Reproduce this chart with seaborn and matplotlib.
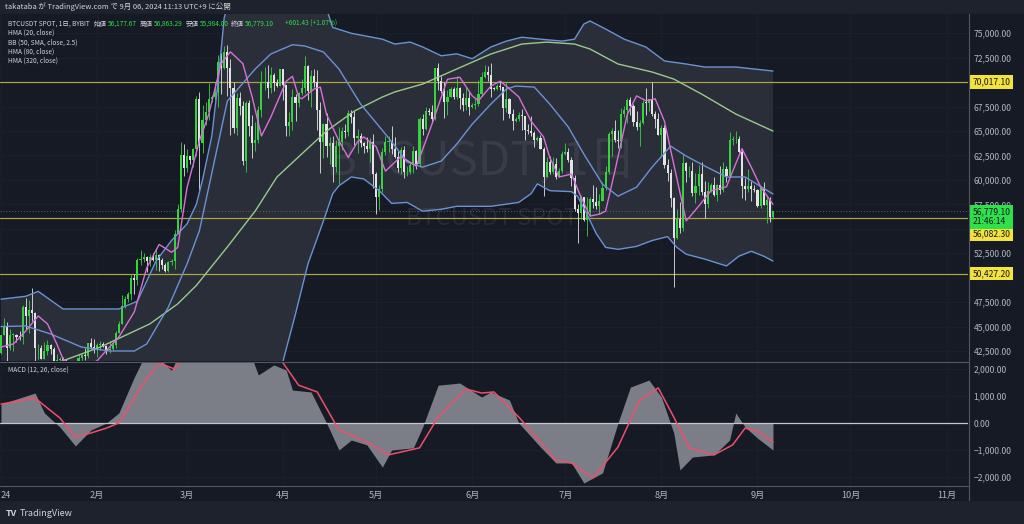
import numpy as np
import pandas as pd
import matplotlib
matplotlib.use('Agg')
import matplotlib.pyplot as plt
from matplotlib.lines import Line2D
import seaborn as sns

# ---- daily BTCUSDT spot (Bybit), (high, low, close) per day ----
jan = [(44180, 42180, 44180), (45900, 44150, 44950), (45500, 40750, 42850), (44770, 42630, 44150),
       (44300, 42450, 44160), (44200, 43400, 43970), (44500, 43600, 43930), (47250, 43200, 46970),
       (47900, 44750, 46120), (47700, 44300, 46650), (48970, 45600, 46340), (46500, 41500, 42780),
       (43250, 41720, 42850), (43100, 41700, 41730), (43400, 41720, 42510), (43580, 42050, 43150),
       (43200, 42200, 42740), (42930, 40700, 41270), (42200, 40280, 41620), (41880, 41450, 41670),
       (41880, 41500, 41570), (41680, 39450, 39520), (40500, 38550, 39890), (40550, 39500, 40080),
       (40280, 39500, 39930), (42230, 39820, 41810), (42200, 41400, 42120), (42850, 41620, 42030),
       (43300, 41800, 43300), (43880, 42700, 42940), (43750, 42300, 42580)]
feb = [(43290, 41880, 43080), (43490, 42600, 43190), (43380, 42890, 43000), (43120, 42220, 42580),
       (43540, 42280, 42660), (43400, 42570, 43090), (44500, 42780, 44340), (45600, 44340, 45290),
       (48200, 45250, 47140), (48150, 46850, 47770), (48580, 47540, 48290), (50350, 47700, 49960),
       (50370, 48300, 49720), (52050, 49300, 51820), (52820, 51300, 51940), (52570, 51600, 52150),
       (52200, 50600, 51660), (52380, 51180, 52120), (52480, 51710, 51790), (52990, 50800, 52270),
       (52380, 50650, 51850), (52000, 50900, 51300), (51540, 50540, 50730), (51700, 50580, 51570),
       (51950, 51280, 51730), (54900, 50900, 54480), (57580, 54450, 57050), (63900, 56700, 62500),
       (63680, 60370, 61200)]
mar = [(63200, 60800, 62440), (62450, 61600, 62030), (63230, 61300, 63130), (68600, 62400, 68300),
       (69000, 59000, 63800), (67650, 62800, 66100), (68000, 65600, 66900), (69900, 66150, 68300),
       (68700, 68000, 68500), (69980, 68200, 69000), (72800, 67500, 72100), (72950, 68800, 71480),
       (73650, 71330, 73080), (73780, 68600, 71400), (72400, 64550, 69400), (70000, 64850, 65300),
       (68850, 64550, 68390), (68950, 66600, 67600), (68100, 61500, 61900), (68100, 60770, 67900),
       (68200, 64500, 65500), (66650, 62280, 63800), (65950, 63000, 64100), (67600, 63800, 67200),
       (71150, 66400, 69960), (71550, 69250, 69990), (71730, 68400, 69450), (71550, 68900, 70750),
       (70900, 69050, 69900), (70300, 69550, 69650), (71370, 69580, 71300)]
apr = [(71350, 68150, 69700), (69670, 64500, 65500), (66900, 64500, 65960), (69300, 65100, 68500),
       (68750, 66000, 67840), (69000, 67450, 68900), (70300, 68700, 69360), (72700, 68900, 71620),
       (71750, 68200, 69140), (71200, 67500, 70590), (71300, 69550, 70060), (71250, 65100, 67200),
       (67950, 60700, 63900), (65800, 62200, 65740), (66850, 62300, 63420), (64350, 61600, 63800),
       (64500, 59800, 61280), (64100, 60800, 63510), (65450, 59600, 63840), (65400, 63100, 64990),
       (65700, 64250, 64930), (67200, 64500, 66840), (67200, 65850, 66410), (67050, 63600, 64280),
       (65250, 62800, 64500), (64800, 63350, 63770), (63900, 62800, 63460), (64350, 62820, 63120),
       (64250, 61800, 63840), (64700, 59200, 60640)]
may = [(60800, 56550, 58250), (59500, 56950, 59120), (63300, 58800, 62880), (64500, 62580, 63890),
       (64500, 62900, 64030), (65500, 62700, 63160), (64400, 62200, 62330), (62960, 60850, 61190),
       (63400, 60650, 63070), (63450, 60200, 60790), (61450, 60450, 60820), (61800, 60650, 61490),
       (63450, 60750, 62940), (63100, 61150, 61580), (66450, 61300, 66270), (66700, 64600, 65230),
       (67450, 65100, 67050), (67400, 66600, 66940), (67700, 65850, 66280), (71500, 66100, 71450),
       (71950, 69150, 70140), (70650, 68850, 69120), (70050, 66300, 67930), (69200, 66650, 68530),
       (69550, 68500, 69290), (69500, 68250, 68500), (70600, 68250, 69390), (69550, 67250, 68370),
       (68900, 67100, 67630), (69500, 67150, 68360), (69000, 66650, 67490)]
jun = [(67850, 67400, 67710), (68450, 67300, 67750), (70250, 67600, 68800), (71050, 68550, 70560),
       (71750, 70400, 71080), (71650, 70150, 70760), (71990, 68500, 69340), (69550, 69200, 69310),
       (69850, 69150, 69650), (70150, 69250, 69510), (69550, 66100, 67320), (69990, 66900, 68240),
       (68400, 66300, 66760), (67300, 65100, 66010), (66400, 65900, 66190), (66900, 66050, 66640),
       (67250, 65100, 66490), (66500, 64100, 65150), (65750, 64700, 64960), (66500, 64500, 64830),
       (65000, 63400, 64100), (64500, 63950, 64260), (64550, 63150, 63160), (63350, 58400, 60270),
       (62350, 60250, 61800), (62450, 60650, 60860), (62300, 60600, 61670), (62200, 60050, 60320),
       (61200, 60300, 60890), (63000, 60700, 62680)]
jul = [(63800, 62500, 62850), (63250, 61800, 62030), (62300, 59400, 60200), (60500, 56800, 57050),
       (57500, 53500, 56660), (58500, 56050, 58230), (58250, 55800, 55850), (58250, 54300, 56700),
       (58300, 56300, 58050), (59450, 57150, 57720), (59300, 57000, 57340), (58600, 56500, 57890),
       (59800, 57800, 59200), (61400, 59000, 60800), (64900, 60650, 64720), (65350, 62450, 65040),
       (66100, 63900, 64090), (65150, 63250, 63970), (67400, 63250, 66700), (67600, 66400, 67150),
       (68350, 65800, 68190), (68500, 66600, 67550), (67800, 65500, 65950), (67100, 65100, 65370),
       (66100, 63450, 65780), (68200, 65750, 67920), (69400, 66650, 67900), (68300, 67050, 68250),
       (70000, 66500, 66780), (67000, 65300, 66190), (66800, 64550, 64620)]
aug = [(65600, 62300, 65350), (65600, 61200, 61500), (62150, 59850, 60700), (61100, 57200, 58110),
       (58300, 49000, 54020), (57000, 53950, 56030), (57700, 54600, 55130), (62700, 54750, 61700),
       (61800, 59800, 60880), (61450, 60250, 60950), (61800, 58400, 58710), (60700, 57650, 59350),
       (61550, 58500, 60600), (61800, 58450, 58740), (59850, 56100, 57560), (59800, 57100, 58880),
       (59650, 58800, 59490), (60250, 58400, 58430), (59600, 57850, 59490), (61400, 58600, 59010),
       (61800, 58800, 61160), (61400, 59800, 60380), (64950, 60350, 64090), (64500, 63600, 64170),
       (65000, 63800, 64220), (64450, 62800, 62830), (63200, 58100, 59420), (60200, 57900, 59030),
       (61150, 58800, 59370), (59900, 57850, 59120), (59450, 58750, 58970)]
sep = [(59050, 57200, 57300), (59400, 57150, 59130), (59800, 57450, 57480), (58500, 55600, 57970),
       (58300, 55700, 56177.67), (56863.29, 55984.00, 56779.10)]
first_open = 42280

# ---- indicator lines (MM-DD, value) ----
hma20 = [('01-01', 42900), ('01-05', 43220), ('01-09', 44550), ('01-13', 46080), ('01-16', 45270),
         ('01-19', 43220), ('01-21', 41680), ('01-26', 40500), ('02-01', 41500), ('02-05', 42900),
         ('02-08', 43920), ('02-13', 46500), ('02-17', 51000), ('02-21', 53400), ('02-25', 52600),
         ('02-27', 53100), ('03-01', 59200), ('03-05', 64000), ('03-08', 66700), ('03-12', 71900),
         ('03-15', 73100), ('03-19', 71900), ('03-22', 68500), ('03-25', 64500), ('03-28', 66400),
         ('04-02', 70100), ('04-04', 70600), ('04-06', 68500), ('04-07', 68300), ('04-11', 69300),
         ('04-13', 69500), ('04-15', 66700), ('04-19', 64000), ('04-22', 62300), ('04-25', 63900),
         ('04-27', 64400), ('05-01', 63400), ('05-04', 60900), ('05-09', 62400), ('05-14', 61400),
         ('05-19', 65700), ('05-24', 70300), ('05-28', 70500), ('06-01', 68600), ('06-03', 68100),
         ('06-07', 69600), ('06-10', 70100), ('06-12', 69600), ('06-16', 68500), ('06-20', 66000),
         ('06-24', 64400), ('06-26', 62300), ('06-29', 60300), ('07-03', 60600), ('07-06', 58300),
         ('07-09', 56300), ('07-12', 56500), ('07-14', 56800), ('07-17', 60900), ('07-21', 66700),
         ('07-24', 68600), ('07-27', 68100), ('07-30', 68300), ('08-02', 66000), ('08-05', 61600),
         ('08-09', 55800), ('08-13', 57300), ('08-17', 58900), ('08-22', 59300), ('08-24', 60900),
         ('08-27', 63200), ('08-30', 61300), ('09-02', 59300), ('09-06', 57500)]
hma80 = [('01-01', 45000), ('01-09', 45060), ('01-17', 44240), ('01-27', 42900), ('02-05', 42500),
         ('02-13', 42500), ('02-17', 43220), ('02-24', 47000), ('03-01', 51400), ('03-05', 54800),
         ('03-14', 68070), ('03-23', 71350), ('03-28', 72880), ('04-04', 73830), ('04-08', 73700),
         ('04-14', 73090), ('04-19', 71350), ('04-26', 67760), ('05-04', 64690), ('05-07', 63500),
         ('05-11', 61820), ('05-16', 61310), ('05-22', 61930), ('05-27', 63670), ('06-01', 65710),
         ('06-07', 67760), ('06-12', 69290), ('06-15', 69600), ('06-21', 69500), ('06-26', 67760),
         ('07-02', 65400), ('07-07', 62640), ('07-13', 59570), ('07-18', 58340), ('07-24', 59260),
         ('07-29', 61310), ('08-04', 63460), ('08-09', 62440), ('08-15', 61420), ('08-22', 60300),
         ('08-28', 60300), ('09-06', 58560)]
hma320 = [('01-01', 39000), ('01-21', 41500), ('02-02', 42900), ('02-18', 45270), ('02-27', 47320),
          ('03-04', 49200), ('03-14', 53140), ('03-23', 56820), ('03-30', 60300), ('04-08', 62950),
          ('04-15', 65000), ('04-24', 67050), ('05-03', 68480), ('05-07', 69000), ('05-16', 69810),
          ('05-27', 71350), ('06-07', 72880), ('06-17', 73900), ('06-25', 74100), ('07-04', 73900),
          ('07-09', 73390), ('07-18', 71860), ('07-29', 71040), ('08-05', 70320), ('08-14', 68780),
          ('08-25', 66740), ('09-06', 65000)]
bb_upper = [('01-01', 47800), ('01-09', 48100), ('01-13', 48600), ('01-21', 46800), ('02-08', 46800),
            ('02-14', 47600), ('02-20', 51700), ('02-25', 53800), ('03-01', 55500), ('03-04', 57500),
            ('03-06', 60000), ('03-09', 64500), ('03-11', 70000), ('03-13', 76600), ('03-20', 84000),
            ('04-08', 84000), ('04-15', 77500), ('04-17', 75600), ('04-23', 75000), ('05-03', 74400),
            ('05-07', 73900), ('05-12', 74100), ('05-16', 73600), ('05-22', 72700), ('05-27', 72900),
            ('06-01', 72400), ('06-07', 73600), ('06-12', 74200), ('06-17', 74600), ('06-23', 74400),
            ('06-30', 74200), ('07-04', 74400), ('07-07', 75950), ('07-09', 76260), ('07-14', 75440),
            ('07-20', 74400), ('07-27', 73600), ('08-02', 72170), ('08-09', 71860), ('08-15', 71550),
            ('08-25', 71550), ('09-06', 71140)]
bb_lower = [('01-01', 38500), ('02-15', 37000), ('03-15', 34000), ('03-29', 38500), ('04-01', 41500),
            ('04-05', 46300), ('04-09', 51400), ('04-14', 55800), ('04-17', 58600), ('04-19', 59400),
            ('04-23', 60300), ('04-27', 60100), ('05-02', 58900), ('05-06', 57600), ('05-11', 57700),
            ('05-16', 56800), ('05-22', 57000), ('05-27', 57300), ('06-07', 57300), ('06-16', 57700),
            ('06-20', 58600), ('06-22', 59600), ('06-26', 58900), ('07-03', 58800), ('07-05', 58300),
            ('07-08', 56500), ('07-11', 54500), ('07-14', 53100), ('07-18', 52900), ('07-24', 53200),
            ('07-29', 53800), ('08-03', 54200), ('08-06', 53100), ('08-09', 52400), ('08-15', 51900),
            ('08-22', 51200), ('08-26', 52200), ('08-30', 52700), ('09-03', 52200), ('09-06', 51700)]
macd = [('01-01', 700), ('01-02', 740), ('01-12', 1110), ('01-15', 370), ('01-20', -150), ('01-25', -850),
        ('01-30', -260), ('02-04', 0), ('02-08', 370), ('02-13', 1700), ('02-16', 2400), ('02-20', 2500),
        ('02-25', 1950), ('02-28', 2700), ('03-06', 4200), ('03-14', 4600), ('03-20', 3000), ('03-24', 1780),
        ('03-29', 2150), ('04-02', 1960), ('04-04', 1220), ('04-10', 1150), ('04-15', 0), ('04-19', -1000),
        ('04-23', -630), ('04-28', -810), ('05-03', -1630), ('05-06', -1000), ('05-13', -920), ('05-16', -150),
        ('05-21', 1400), ('05-28', 1480), ('06-04', 960), ('06-07', 1150), ('06-13', 850), ('06-16', 0),
        ('06-23', -890), ('06-28', -1480), ('07-03', -1480), ('07-07', -2220), ('07-13', -1850), ('07-18', 0),
        ('07-22', 1330), ('07-28', 1590), ('08-01', 960), ('08-05', -370), ('08-07', -1740), ('08-11', -1260),
        ('08-18', -1180), ('08-23', -630), ('08-25', 370), ('08-28', -150), ('09-01', -560), ('09-06', -1000)]
signal = [('01-01', 700), ('01-12', 920), ('01-20', 185), ('01-25', -520), ('01-30', -370), ('02-04', -190),
          ('02-08', 0), ('02-16', 1480), ('02-21', 2220), ('02-26', 2000), ('03-06', 3200), ('03-20', 3800),
          ('04-01', 2220), ('04-06', 1400), ('04-12', 1150), ('04-19', -260), ('04-28', -700), ('05-05', -1180),
          ('05-15', -920), ('05-21', 220), ('05-30', 1260), ('06-04', 1110), ('06-08', 1150), ('06-16', 220),
          ('06-28', -1370), ('07-03', -1480), ('07-10', -2030), ('07-18', -890), ('07-25', 850), ('07-31', 1300),
          ('08-05', 220), ('08-10', -920), ('08-18', -1180), ('08-24', -810), ('08-28', -190), ('09-01', -300),
          ('09-06', -700)]

levels = [70017.10, 56082.30, 50427.20]
last_price = 56779.10
countdown = '21:46:14'
month_labels = ['24', '2月', '3月', '4月', '5月', '6月', '7月', '8月', '9月', '10月', '11月']
price_ticks = [42500, 45000, 47500, 50000, 52500, 55000, 57500, 60000, 62500, 65000, 67500, 70000,
               72500, 75000]
hidden_ticks = [50000, 55000]   # covered by the price tags on the right scale
macd_ticks = [-2000, -1000, 0, 1000, 2000]

BG = '#161a25'
BAR = '#1e222d'
FILL = '#2a2e39'
TXT = '#b2b5be'
GREEN = '#38d13f'
WHITE = '#e4e4e4'
PINK = '#d870d8'
BLUE = '#6a92d4'
LGREEN = '#9bc98c'
LEVEL = '#aaa444'
YEL = '#f3e33c'
GRAYM = '#7b7e87'
RED = '#ef4f6a'

sns.set_theme(style='dark', rc={'axes.facecolor': BG, 'figure.facecolor': BAR})
plt.rcParams['font.family'] = ['Noto Sans CJK JP', 'DejaVu Sans']


def to_frame(points):
    d = pd.DataFrame(points, columns=['day', 'value'])
    d['date'] = pd.to_datetime('2024-' + d['day'])
    return d


df = pd.DataFrame(jan + feb + mar + apr + may + jun + jul + aug + sep, columns=['high', 'low', 'close'])
df['date'] = pd.date_range('2024-01-01', periods=len(df), freq='D')
df['open'] = df['close'].shift(1).fillna(first_open)

t0 = pd.Timestamp('2024-01-01')
xlim = (t0 - pd.Timedelta(days=0.32), t0 + pd.Timedelta(days=311.9))
months = pd.date_range('2024-01-01', '2024-11-01', freq='MS')

W, H = 1024, 524
fig = plt.figure(figsize=(W / 100, H / 100), dpi=100)
fig.patches.append(plt.Rectangle((0, 24 / H), 1, 1 - 38 / H, transform=fig.transFigure,
                                 color=BG, zorder=-5))
ax = fig.add_axes([0, 1 - 361 / H, 968 / W, 347 / H])
mx = fig.add_axes([0, 1 - 485 / H, 968 / W, 123 / H])
for a in (ax, mx):
    a.set_facecolor(BG)
    for s in a.spines.values():
        s.set_visible(False)
    a.set_xlim(*xlim)
    a.set_xticks(months)
    a.grid(True, color='#1c202c', lw=0.6)

# ---- price panel ----
ax.set_ylim(41476, 76974)
up, lo = to_frame(bb_upper), to_frame(bb_lower)
ax.fill(list(up['date']) + list(lo['date'][::-1]), list(up['value']) + list(lo['value'][::-1]),
        color=FILL, lw=0, zorder=1)
ax.text(0.497, 0.575, 'BTCUSDT, 1日', transform=ax.transAxes, ha='center', va='center',
        fontsize=34, color='white', alpha=0.07, zorder=1.5)
ax.text(0.508, 0.41, 'BTCUSDT SPOT', transform=ax.transAxes, ha='center', va='center',
        fontsize=17, color='white', alpha=0.07, zorder=1.5)

for lv in levels:
    ax.axhline(lv, color=LEVEL, lw=0.9, zorder=2)
ax.axhline(last_price, color='#5d6170', lw=0.7, ls=(0, (1, 2)), zorder=2)

rising = df['close'] >= df['open']
for mask, col in ((rising, GREEN), (~rising, WHITE)):
    sub = df[mask]
    ax.vlines(sub['date'], sub['low'], sub['high'], color=col, lw=0.6, zorder=3)
    ax.bar(sub['date'], (sub['close'] - sub['open']).abs().clip(lower=60),
           bottom=np.minimum(sub['open'], sub['close']), width=0.68, color=col, lw=0, zorder=3)

for pts, col in ((bb_upper, BLUE), (bb_lower, BLUE), (hma320, LGREEN), (hma80, BLUE), (hma20, PINK)):
    sns.lineplot(data=to_frame(pts), x='date', y='value', ax=ax, color=col, lw=1.0,
                 estimator=None, sort=False, zorder=4)

ax.set_xlabel('')
ax.set_ylabel('')
ax.yaxis.tick_right()
ax.set_yticks(price_ticks)
ax.set_yticklabels(['' if v in hidden_ticks else f'{v:,.2f}' for v in price_ticks])
ax.tick_params(axis='y', length=0, pad=4, labelsize=6.2, labelcolor=TXT)
ax.tick_params(axis='x', length=0, labelbottom=False)


def price_tag(value, text, fc, dy=0):
    ax.annotate(text, xy=(1.0, value), xycoords=('axes fraction', 'data'), xytext=(3.2, dy),
                textcoords='offset points', ha='left', va='center', fontsize=6.2, color='#131722',
                linespacing=1.05, annotation_clip=False, zorder=10,
                bbox=dict(boxstyle='square,pad=0.28', fc=fc, ec='none'))


price_tag(levels[0], f'{levels[0]:,.2f}', YEL)
price_tag(levels[2], f'{levels[2]:,.2f}', YEL)
price_tag(levels[1], f'{levels[1]:,.2f}', YEL, dy=-11.5)
price_tag(last_price, f'{last_price:,.2f}\n{countdown}', '#2ee04a', dy=-4)

# ---- MACD panel ----
mx.set_ylim(-2296, 2259)
m = to_frame(macd)
mx.fill_between(m['date'], 0, m['value'], color=GRAYM, lw=0, zorder=2)
mx.axhline(0, color='#c3c6ce', lw=0.9, zorder=3)
sns.lineplot(data=to_frame(signal), x='date', y='value', ax=mx, color=RED, lw=1.1,
             estimator=None, sort=False, zorder=4)
mx.set_xlabel('')
mx.set_ylabel('')
mx.yaxis.tick_right()
mx.set_yticks(macd_ticks)
mx.set_yticklabels([f'{v:,.2f}'.replace('-', '\u2212') for v in macd_ticks])
mx.tick_params(axis='y', length=0, pad=4, labelsize=6.2, labelcolor=TXT)
mx.set_xticklabels(month_labels)
mx.tick_params(axis='x', length=0, pad=4, labelsize=6.6, labelcolor=TXT)
mx.get_xticklabels()[0].set_ha('left')


# ---- separators ----
for (x0, y0, x1, y1) in ((0, 361.5, 968, 361.5), (0, 485.5, 968, 485.5), (968.5, 14, 968.5, 500)):
    fig.add_artist(Line2D([x0 / W, x1 / W], [1 - y0 / H, 1 - y1 / H], transform=fig.transFigure,
                          color='#545864', lw=0.8))


# ---- header and legends ----
def ptext(x, y, s, color=TXT, size=4.7, **kw):
    fig.text(x / W, 1 - y / H, s, color=color, fontsize=size, va='center', ha='left', **kw)


ptext(5, 7, 'takataba が TradingView.com で 9月 06, 2024 11:13 UTC+9 に公開', color='#d1d4dc', size=5.4)
last = df.iloc[-1]
chg = last['close'] - last['open']
ptext(8, 24, 'BTCUSDT SPOT, 1日, BYBIT', color='#d1d4dc')
for x, lab, val in ((94, '始値', last['open']), (140, '高値', last['high']),
                    (186, '安値', last['low']), (231, '終値', last['close'])):
    ptext(x, 24, lab, color='#d1d4dc')
    ptext(x + 14, 24, f'{val:,.2f}', color='#2ee04a')
ptext(285, 24, f'+{chg:,.2f} (+{chg / last["open"] * 100:.2f}%)', color='#2ee04a')
for y, s in ((33, 'HMA (20, close)'), (43, 'BB (50, SMA, close, 2.5)'),
             (52, 'HMA (80, close)'), (61, 'HMA (320, close)')):
    ptext(8, y, s, color='#d1d4dc')
ptext(8, 370, 'MACD (12, 26, close)', color='#d1d4dc')

ptext(6, 514, 'TV', color='#d1d4dc', size=6.5, fontweight='bold')
ptext(20, 514, 'TradingView', color='#d1d4dc', size=6.5)

fig.savefig('out.png', dpi=100, facecolor=fig.get_facecolor())
